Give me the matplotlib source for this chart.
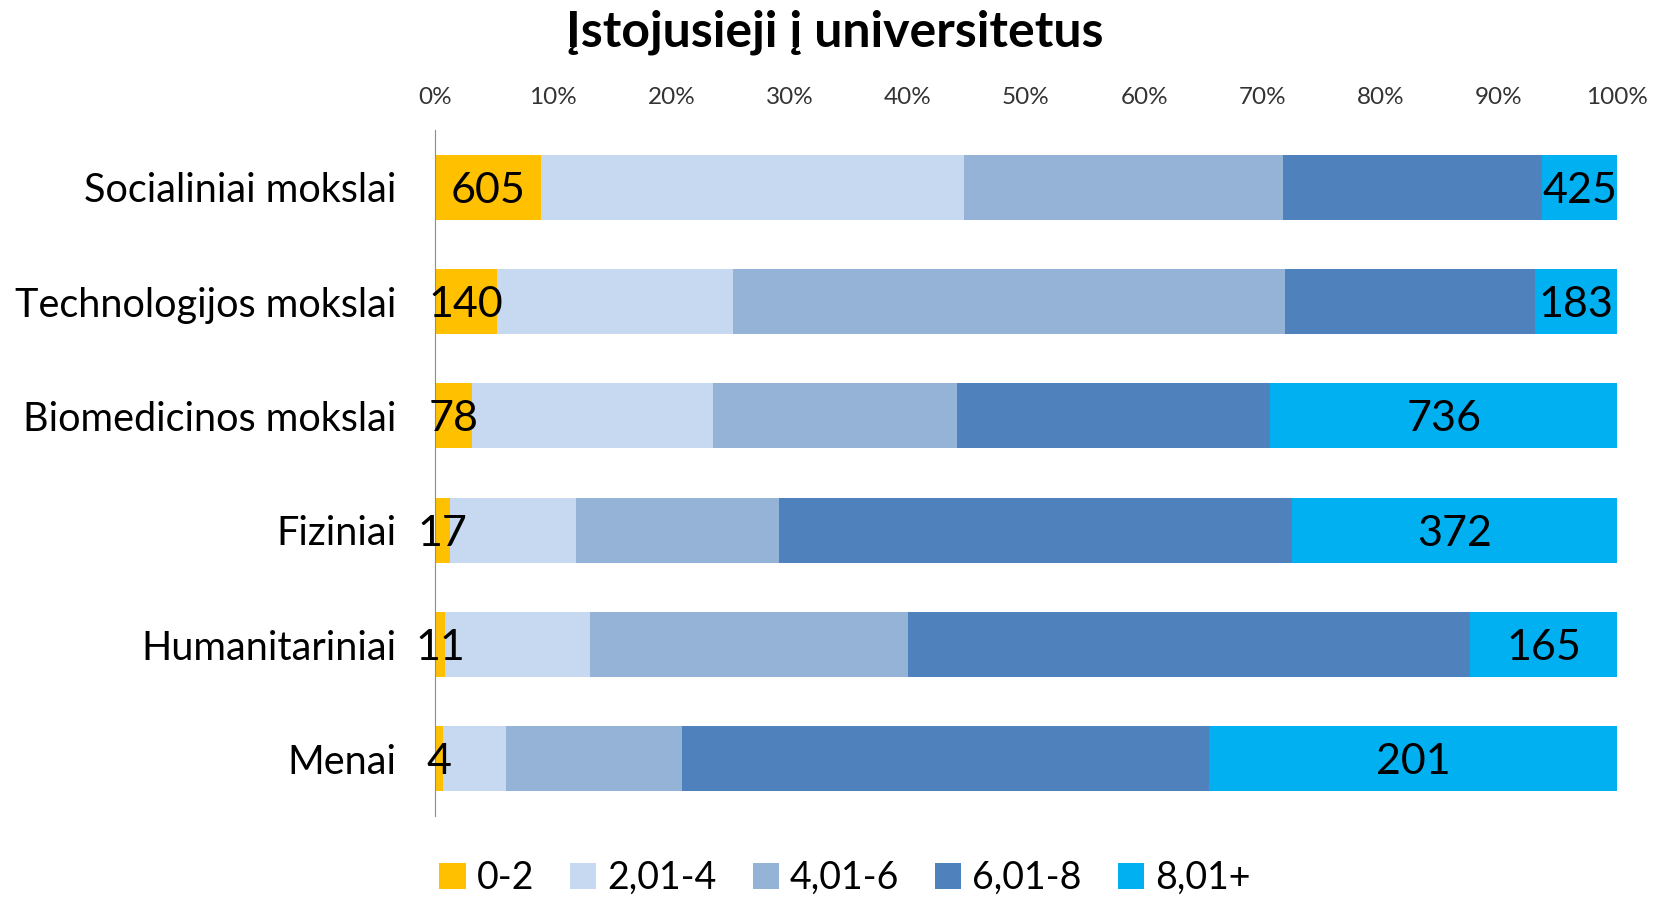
import numpy as np
import matplotlib.pyplot as plt
from matplotlib.ticker import PercentFormatter

plt.rcParams['font.family'] = ['Lato', 'DejaVu Sans']

categories = ["Socialiniai mokslai", "Technologijos mokslai", "Biomedicinos mokslai",
              "Fiziniai", "Humanitariniai", "Menai"]
groups = ["0-2", "2,01-4", "4,01-6", "6,01-8", "8,01+"]
colors = ["#FFC000", "#C6D9F1", "#95B3D7", "#4F81BD", "#00B0F0"]

# counts per grade group (first and last are labelled in the original)
g0_2 = [605, 140, 78, 17, 11, 4]
g2_4 = [2403, 527, 513, 144, 164, 31]
g4_6 = [1818, 1238, 517, 233, 358, 87]
g6_8 = [1472, 562, 666, 586, 633, 260]
g8p = [425, 183, 736, 372, 165, 201]

counts = np.array([g0_2, g2_4, g4_6, g6_8, g8p], dtype=float)
shares = counts / counts.sum(axis=0)

fig = plt.figure(figsize=(16.61, 8.97), dpi=100)
ax = fig.add_axes([435 / 1661, 1 - 816 / 897, (1617 - 435) / 1661, (816 - 130) / 897])

y = np.arange(len(categories))
left = np.zeros(len(categories))
for i, (name, col) in enumerate(zip(groups, colors)):
    bars = ax.barh(y, shares[i], left=left, height=0.57, color=col, label=name)
    left += shares[i]
    if i == 0 or i == len(groups) - 1:
        texts = ax.bar_label(bars, labels=[str(int(v)) for v in counts[i]], label_type='center',
                             fontsize=31, color='black')
        for t in texts:
            t.set_va('center_baseline')

ax.set_xlim(0, 1)
ax.set_ylim(len(categories) - 0.5, -0.5)
ax.set_yticks(y)
ax.set_yticklabels(categories, fontsize=28.5)
ax.xaxis.tick_top()
ax.set_xticks(np.linspace(0, 1, 11))
ax.xaxis.set_major_formatter(PercentFormatter(1.0, decimals=0))
ax.tick_params(axis='x', length=0, labelsize=17.5, pad=16, colors='#333333')
ax.tick_params(axis='y', length=0, pad=28)
for s in ['top', 'right', 'bottom']:
    ax.spines[s].set_visible(False)
ax.spines['left'].set_color('#8C8C8C')

fig.text(835 / 1661, 1 - 32 / 897, "Įstojusieji į universitetus", ha='center', va='center',
         fontsize=36, fontweight='bold')

fig.legend(loc='center', bbox_to_anchor=(845 / 1661, 1 - 878 / 897), ncol=5, frameon=False,
           fontsize=27, handlelength=0.7, handleheight=0.7, handletextpad=0.3, columnspacing=0.95)

fig.savefig("out.png", dpi=100)
